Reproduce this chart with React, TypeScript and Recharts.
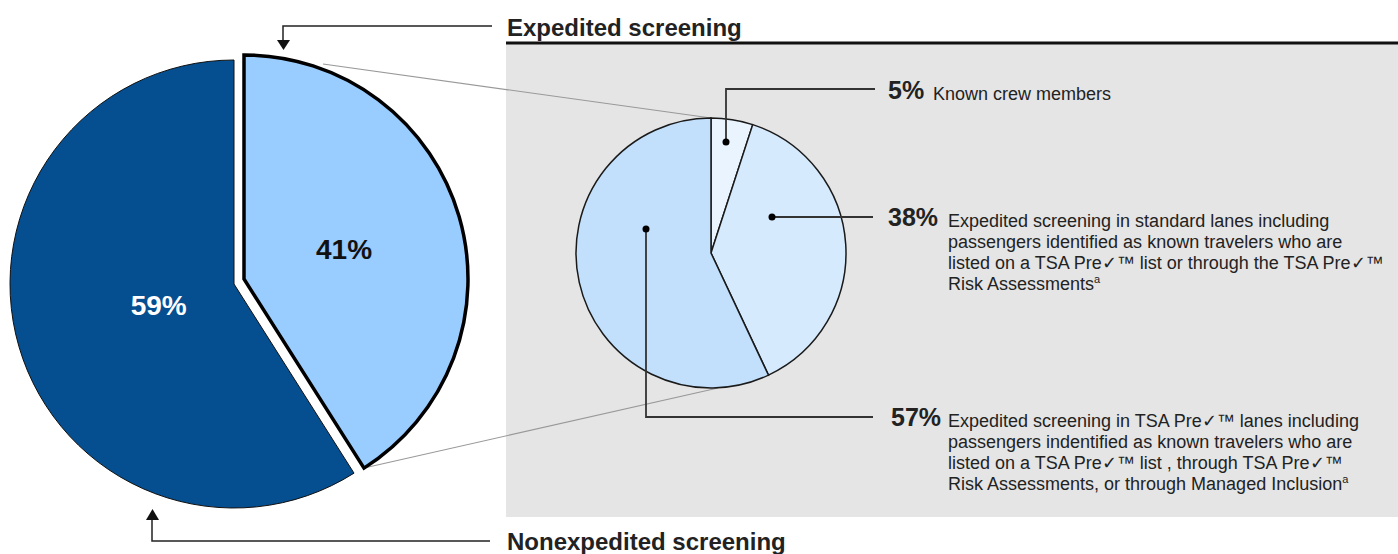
import { PieChart, Pie, Cell } from 'recharts';

// main split of screened passengers
const mainNames = ['Expedited screening', 'Nonexpedited screening'];
const mainValues = [41, 59];
const mainColors = ['#99CCFF', '#054E90'];

// breakdown of the expedited slice
const subNames = ['Known crew members', 'Standard lanes', 'TSA Pre lanes'];
const subValues = [5, 38, 57];
const subColors = ['#EAF4FF', '#D6EAFD', '#C2E0FC'];
const subLabels = ['5%', '38%', '57%'];
const subText = [
  ['Known crew members'],
  [
    'Expedited screening in standard lanes including',
    'passengers identified as known travelers who are',
    'listed on a TSA Pre\u2713\u2122 list or through the TSA Pre\u2713\u2122',
    'Risk Assessments',
  ],
  [
    'Expedited screening in TSA Pre\u2713\u2122 lanes including',
    'passengers indentified as known travelers who are',
    'listed on a TSA Pre\u2713\u2122 list , through TSA Pre\u2713\u2122',
    'Risk Assessments, or through Managed Inclusion',
  ],
];
const subFootnote = [false, true, true];

const mainData = mainNames.map((name, i) => ({ name, value: mainValues[i] }));
const subData = subNames.map((name, i) => ({ name, value: subValues[i] }));

const FONT = '"Liberation Sans", Arial, sans-serif';
const RAD = Math.PI / 180;

const mainLabel = (show: number, factor: number, color: string) => (props: any) => {
  if (props.index !== show) return null;
  const r = props.outerRadius * factor;
  const x = props.cx + r * Math.cos(-props.midAngle * RAD);
  const y = props.cy + r * Math.sin(-props.midAngle * RAD);
  return (
    <text x={x} y={y} fill={color} textAnchor="middle" dominantBaseline="central"
      fontFamily={FONT} fontWeight="bold" fontSize={28}>
      {mainValues[show]}%
    </text>
  );
};

// text rows next to the small pie
const rows = [
  { pctX: 888, textX: 933, y: 99 },
  { pctX: 888, textX: 948, y: 226 },
  { pctX: 891, textX: 948, y: 426 },
];

export default function App() {
  return (
    <div style={{ position: 'absolute', left: 0, top: 0, width: 1398, height: 554, background: '#fff' }}>
      <svg width={1398} height={554} style={{ position: 'absolute', left: 0, top: 0 }}>
        <rect x={506} y={44} width={892} height={473} fill="#E5E5E5" />
        <line x1={506} x2={1398} y1={43} y2={43} stroke="#111" strokeWidth={3} />
        <line x1={323} y1={64} x2={711} y2={118} stroke="#999" strokeWidth={1.2} />
        <line x1={364} y1={468} x2={718} y2={388} stroke="#999" strokeWidth={1.2} />
      </svg>

      <div style={{ position: 'absolute', left: 0, top: 0 }}>
        <PieChart width={1398} height={554} margin={{ top: 0, right: 0, bottom: 0, left: 0 }}>
          <Pie data={mainData} dataKey="value" cx={244} cy={279} outerRadius={224}
            startAngle={90} endAngle={-270} isAnimationActive={false}
            labelLine={false} label={mainLabel(0, 0.465, '#111')}>
            <Cell fill={mainColors[0]} stroke="#000" strokeWidth={3.5} />
            <Cell fill="none" stroke="none" />
          </Pie>
          <Pie data={mainData} dataKey="value" cx={234} cy={284} outerRadius={224}
            startAngle={90} endAngle={-270} isAnimationActive={false}
            labelLine={false} label={mainLabel(1, 0.35, '#fff')}>
            <Cell fill="none" stroke="none" />
            <Cell fill={mainColors[1]} stroke="#111" strokeWidth={1} />
          </Pie>
          <Pie data={subData} dataKey="value" cx={711} cy={253} outerRadius={135}
            startAngle={90} endAngle={-270} isAnimationActive={false}>
            {subData.map((d, i) => (
              <Cell key={d.name} fill={subColors[i]} stroke="#1a1a1a" strokeWidth={1.5} />
            ))}
          </Pie>
        </PieChart>
      </div>

      <svg width={1398} height={554} style={{ position: 'absolute', left: 0, top: 0, pointerEvents: 'none' }}>
        {/* arrows */}
        <polyline points="492,26 283,26 283,41" fill="none" stroke="#222" strokeWidth={1.5} />
        <polygon points="277,40 290,40 283.5,50" fill="#111" />
        <polyline points="490,541 152,541 152,520" fill="none" stroke="#222" strokeWidth={1.5} />
        <polygon points="146,520 159,520 152.5,509" fill="#111" />

        <text x={507} y={36} fontFamily={FONT} fontWeight="bold" fontSize={24} fill="#222">Expedited screening</text>
        <text x={507} y={550} fontFamily={FONT} fontWeight="bold" fontSize={24} fill="#222">Nonexpedited screening</text>

        {/* leaders */}
        <polyline points="726,142 726,89 875,89" fill="none" stroke="#333" strokeWidth={1.8} />
        <circle cx={726} cy={142} r={3.5} fill="#000" />
        <polyline points="772,217 873,217" fill="none" stroke="#333" strokeWidth={1.8} />
        <circle cx={772} cy={217} r={3.5} fill="#000" />
        <polyline points="646,229 646,417 873,417" fill="none" stroke="#333" strokeWidth={1.8} />
        <circle cx={646} cy={229} r={3.5} fill="#000" />

        {rows.map((r, i) => (
          <g key={i}>
            <text x={r.pctX} y={r.y} fontFamily={FONT} fontWeight="bold" fontSize={25} fill="#222">{subLabels[i]}</text>
            <text fontFamily={FONT} fontSize={18} fill="#222">
              {subText[i].map((line, j) => (
                <tspan key={j} x={r.textX} y={r.y + 1 + j * 21}>
                  {line}
                  {subFootnote[i] && j === subText[i].length - 1 ? (
                    <tspan fontSize={11} dy={-7}>a</tspan>
                  ) : null}
                </tspan>
              ))}
            </text>
          </g>
        ))}
      </svg>
    </div>
  );
}
